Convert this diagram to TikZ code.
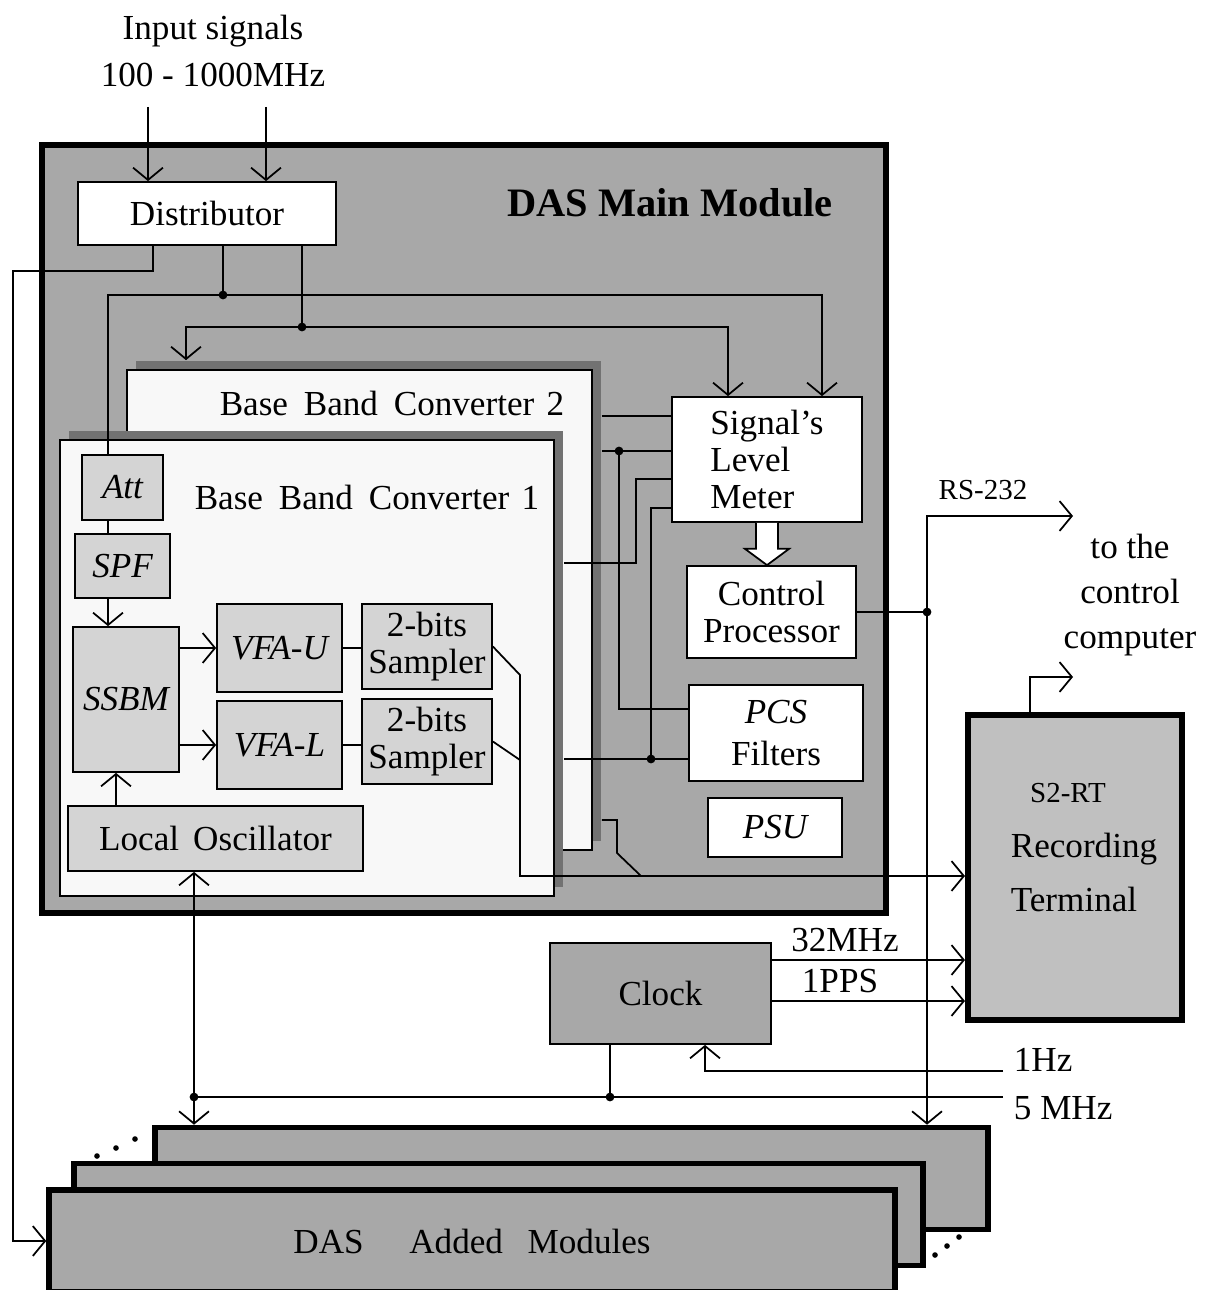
\documentclass[tikz,border=0pt]{standalone}
\usepackage{fontspec}
\setmainfont{Liberation Serif}
\usetikzlibrary{arrows.meta,calc,positioning}
\definecolor{modgray}{HTML}{A8A8A8}
\definecolor{boxgray}{HTML}{D4D4D4}
\definecolor{bbcwhite}{HTML}{F8F8F8}
\definecolor{rtgray}{HTML}{C0C0C0}
\definecolor{hatch}{HTML}{727272}

\begin{document}
\begin{tikzpicture}[x=0.02cm,y=-0.02cm,>={Straight Barb[length=7pt,width=17pt]},line width=1pt,
  every node/.style={font=\fontsize{20}{21}\selectfont,inner sep=0pt},
  box/.style={draw,line width=1pt,align=center},
  wbox/.style={box,fill=white},
  gbox/.style={box,fill=boxgray},
  it/.style={font=\fontsize{20}{21}\selectfont\itshape},
  modbox/.style={draw,line width=3.2pt,fill=modgray},
  bbc/.style={draw,line width=1pt,fill=bbcwhite},
  shade/.style={fill=hatch}]
  \useasboundingbox (0,0) rectangle (1215,1290);
  % main module
  \node[modbox,minimum width=16.88cm,minimum height=15.36cm] (main) at (464,529) {};
  \node[font=\fontsize{23}{25}\selectfont\bfseries] (mainlbl) at (670,203) {DAS Main Module};
  \node[wbox,minimum width=5.16cm,minimum height=1.26cm] (dist) at (207,213.5) {Distributor};
  \node[align=center,font=\fontsize{20}{27}\selectfont] (input) at (213,51) {Input signals\\100 - 1000MHz};
  % base band converters
  \node[shade,minimum width=9.3cm,minimum height=9.6cm] (bbc2s) at (368.5,601) {};
  \node[bbc,minimum width=9.3cm,minimum height=9.6cm] (bbc2) at (359.5,610) {};
  \node (bbc2lbl) at (392,403) {Base\hspace{0.45em}Band\hspace{0.45em}Converter\hspace{0.35em}2};
  \node[shade,minimum width=9.88cm,minimum height=9.12cm] (bbc1s) at (316,659) {};
  \node[bbc,minimum width=9.88cm,minimum height=9.12cm] (bbc1) at (307,668) {};
  \node (bbc1lbl) at (367,497) {Base\hspace{0.45em}Band\hspace{0.45em}Converter\hspace{0.35em}1};
  \node[gbox,it,minimum width=1.62cm,minimum height=1.3cm] (att) at (122.5,487.5) {Att};
  \node[gbox,it,minimum width=1.9cm,minimum height=1.28cm] (spf) at (122.5,566) {SPF};
  \node[gbox,it,minimum width=2.12cm,minimum height=2.9cm] (ssbm) at (126,699.5) {SSBM};
  \node[gbox,it,minimum width=2.5cm,minimum height=1.76cm] (vfau) at (279.5,648) {VFA-U};
  \node[gbox,it,minimum width=2.5cm,minimum height=1.76cm] (vfal) at (279.5,745) {VFA-L};
  \node[gbox,minimum width=2.6cm,minimum height=1.7cm] (sampu) at (427,646.5) {2-bits\\Sampler};
  \node[gbox,minimum width=2.6cm,minimum height=1.7cm] (sampl) at (427,741.5) {2-bits\\Sampler};
  \node[gbox,minimum width=5.9cm,minimum height=1.3cm] (lo) at (215.5,838.5) {Local\hspace{0.4em}Oscillator};
  % right part of main module
  \node[wbox,align=left,minimum width=3.8cm,minimum height=2.5cm] (slm) at (767,459.5) {Signal's\\Level\\Meter};
  \node[wbox,minimum width=3.38cm,minimum height=1.84cm] (cp) at (771.5,612) {Control\\Processor};
  \node[wbox,minimum width=3.48cm,minimum height=1.92cm,font=\fontsize{20}{24}\selectfont] (pcs) at (776,733) {\textit{PCS}\\Filters};
  \node[wbox,it,minimum width=2.68cm,minimum height=1.18cm] (psu) at (775,827.5) {PSU};
  % recording terminal and clock
  \node[draw,line width=3.5pt,fill=rtgray,minimum width=4.28cm,minimum height=6.1cm] (rt) at (1075,867.5) {};
  \node[align=left,font=\fontsize{20}{31}\selectfont] (rtlbl) at (1084,848) {\hspace*{0.55em}{\fontsize{16.5}{31}\selectfont S2-RT}\\Recording\\Terminal};
  \node[box,fill=modgray,minimum width=4.42cm,minimum height=2.02cm] (clock) at (660.5,993.5) {Clock};
  % added modules
  \node[modbox,minimum width=16.66cm,minimum height=2.04cm] (back) at (571.5,1178.5) {};
  \node[modbox,minimum width=16.98cm,minimum height=2.04cm] (middle) at (498.5,1214.5) {};
  \node[modbox,minimum width=16.92cm,minimum height=2.04cm] (front) at (472,1241) {DAS\hspace{1.3em}Added\hspace{0.7em}Modules};
  \foreach \p in {(97,1156),(116,1148),(135,1139),(935,1255),(947,1246),(959,1237)}
    \fill \p circle[radius=1.6pt];

  % inputs
  \coordinate (in1) at (148,107);
  \coordinate (in2) at (266,107);
  \draw[->] (in1) -- (in1 |- dist.north);
  \draw[->] (in2) -- (in2 |- dist.north);
  % distributor outputs
  \coordinate (d0) at (153,271);
  \coordinate (d1) at (13,271);
  \draw[->] (dist.south -| d0) -- (d0) -- (d1) |- (front.west);
  \coordinate (j1) at (223,295);
  \coordinate (b1) at (108,295);
  \coordinate (b2) at (822,295);
  \draw (dist.south -| j1) -- (j1);
  \draw[->] (att.north -| b1) -- (b1) -- (b2) -- (b2 |- slm.north);
  \coordinate (j2) at (302,327);
  \coordinate (b3) at (186,327);
  \coordinate (b4) at (728,327);
  \draw (dist.south -| j2) -- (j2);
  \draw[<->] (b3 |- bbc2s.north) -- (b3) -- (b4) -- (b4 |- slm.north);
  \fill (j1) circle[radius=2.5pt] (j2) circle[radius=2.5pt];
  % inside converter 1
  \draw (att.south -| b1) -- (spf.north -| b1);
  \draw[->] (spf.south -| b1) -- (ssbm.north -| b1);
  \draw[->] (ssbm.east |- vfau.west) -- (vfau.west);
  \draw[->] (ssbm.east |- vfal.west) -- (vfal.west);
  \draw (vfau.east) -- (sampu.west |- vfau.east);
  \draw (vfal.east) -- (sampl.west |- vfal.east);
  \coordinate (lo1) at (116,0);
  \draw[->] (lo.north -| lo1) -- (ssbm.south -| lo1);
  % sampler outputs to the terminal
  \coordinate (s1) at (520,675);
  \coordinate (s2) at (520,760);
  \coordinate (s3) at (520,876);
  \draw[->] (sampu.east) -- (s1) -- (s3) -- (s3 -| rt.west);
  \draw (sampl.east) -- (s2);
  \coordinate (c2) at (617,820);
  \coordinate (c3) at (617,853);
  \coordinate (c4) at (641,876);
  \draw (c2 -| bbc2s.east) -- (c2) -- (c3) -- (c4);
  % converters to level meter and filters
  \coordinate (q1) at (640,416);
  \draw (q1 -| bbc2s.east) -- (q1 -| slm.west);
  \coordinate (q2) at (619,451);
  \coordinate (q2b) at (619,709);
  \draw (q2 -| bbc2s.east) -- (q2 -| slm.west);
  \draw (q2) -- (q2b) -- (q2b -| pcs.west);
  \coordinate (q3) at (636,479);
  \coordinate (q3b) at (636,563);
  \draw (q3b -| bbc1s.east) -- (q3b) -- (q3) -- (q3 -| slm.west);
  \coordinate (q4) at (651,508);
  \coordinate (q4b) at (651,759);
  \draw (q4b -| bbc1s.east) -- (q4b -| pcs.west);
  \draw (q4b) -- (q4) -- (q4 -| slm.west);
  \fill (q2) circle[radius=2.5pt] (q4b) circle[radius=2.5pt];
  % level meter to processor
  \draw[fill=white] ($(slm.south)+(-11,0)$) -- ++(0,26) -- ++(-11,0) -- (slm.south |- cp.north)
    -- ($(slm.south)+(22,26)$) -- ++(-11,0) -- ($(slm.south)+(11,0)$);
  % RS-232
  \coordinate (r0) at (927,516);
  \coordinate (r2) at (1073,516);
  \draw (cp.east) -- (cp.east -| r0);
  \draw[<->] (r2) -- (r0) -- (r0 |- back.north);
  \fill (cp.east -| r0) circle[radius=2.5pt];
  \node[font=\fontsize{16.5}{18}\selectfont] (rs) at (983,490) {RS-232};
  \node[align=center,font=\fontsize{20}{25.5}\selectfont] (pc) at (1130,595) {to the\\control\\computer};
  \coordinate (t1) at (1030,677);
  \coordinate (t2) at (1073,677);
  \draw[->] (rt.north -| t1) -- (t1) -- (t2);
  % clock
  \coordinate (k1) at (0,960);
  \coordinate (k2) at (0,1001);
  \draw[->] (clock.east |- k1) -- (rt.west |- k1);
  \draw[->] (clock.east |- k2) -- (rt.west |- k2);
  \node (mhz32) at (845,940) {32MHz};
  \node (pps) at (840,981) {1PPS};
  \coordinate (h1) at (1003,1071);
  \coordinate (h2) at (705,1071);
  \draw[->] (h1) -- (h2) -- (h2 |- clock.south);
  \node[anchor=west] (hz) at (1013,1060) {1Hz};
  \coordinate (f1) at (1003,1097);
  \coordinate (f2) at (194,1097);
  \coordinate (f3) at (610,1097);
  \draw (f1) -- (f2);
  \draw (clock.south -| f3) -- (f3);
  \draw[<->] (lo.south -| f2) -- (f2 |- back.north);
  \fill (f2) circle[radius=2.5pt] (f3) circle[radius=2.5pt];
  \node[anchor=west] (mhz5) at (1013,1108) {5 MHz};
\end{tikzpicture}
\end{document}
